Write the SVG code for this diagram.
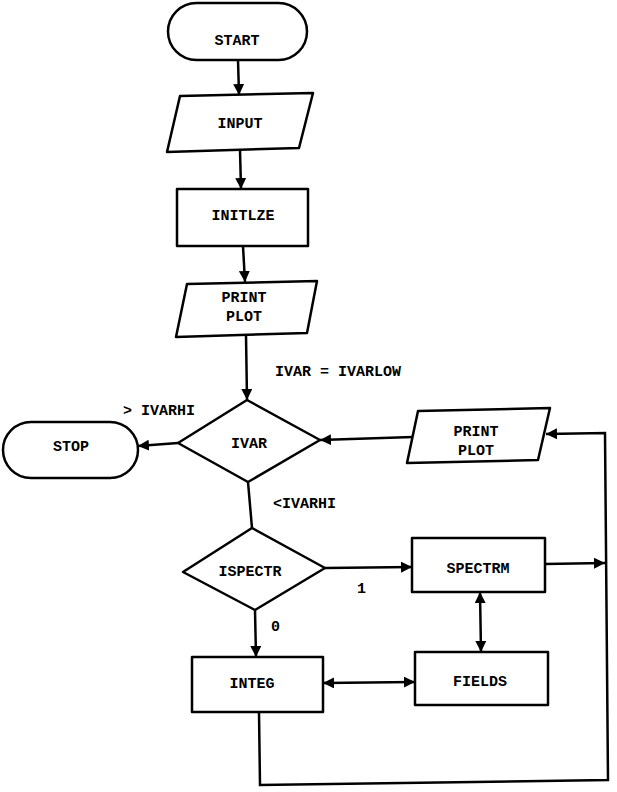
<svg xmlns="http://www.w3.org/2000/svg" width="617" height="792" viewBox="0 0 617 792">
<style>
.s{fill:#fff;stroke:#000;stroke-width:2.5;stroke-linejoin:round}
.c{fill:none;stroke:#000;stroke-width:2.5}
text{font-family:"Liberation Mono","Courier New",monospace;font-weight:bold;font-size:15px;fill:#000}
.m{text-anchor:middle}
</style>
<defs>
<marker id="a" viewBox="0 0 10 10" refX="10" refY="5" markerWidth="11" markerHeight="11" markerUnits="userSpaceOnUse" orient="auto-start-reverse">
<path d="M0,0 L10,5 L0,10 z" fill="#000"/>
</marker>
</defs>
<rect width="617" height="792" fill="#fff"/>
<g id="connectors">
<line class="c" x1="238" y1="60" x2="239" y2="95" marker-end="url(#a)"/>
<line class="c" x1="240" y1="150" x2="241" y2="189" marker-end="url(#a)"/>
<line class="c" x1="243" y1="246" x2="245" y2="282" marker-end="url(#a)"/>
<line class="c" x1="246" y1="335" x2="247" y2="400" marker-end="url(#a)"/>
<line class="c" x1="178" y1="443" x2="138" y2="446" marker-end="url(#a)"/>
<line class="c" x1="248" y1="482" x2="252" y2="528"/>
<line class="c" x1="325" y1="568" x2="412" y2="567" marker-end="url(#a)"/>
<line class="c" x1="255" y1="610" x2="256" y2="657" marker-end="url(#a)"/>
<line class="c" x1="323" y1="683" x2="415" y2="682" marker-start="url(#a)" marker-end="url(#a)"/>
<line class="c" x1="480" y1="592" x2="481" y2="652" marker-start="url(#a)" marker-end="url(#a)"/>
<line class="c" x1="545" y1="564" x2="605" y2="563" marker-end="url(#a)"/>
<polyline class="c" points="259,712 260,785 608,780 605,433 546,434" marker-end="url(#a)"/>
<line class="c" x1="413" y1="437" x2="320" y2="440" marker-end="url(#a)"/>
</g>
<g id="start">
<rect class="s" x="168" y="3" width="139" height="57" rx="28.5"/>
<text class="m" x="237" y="45">START</text>
</g>
<g id="input">
<polygon class="s" points="180,96 313,93 299,148 167,152"/>
<text class="m" x="240" y="128">INPUT</text>
</g>
<g id="initlze">
<rect class="s" x="177" y="189" width="131" height="57"/>
<text class="m" x="243" y="220">INITLZE</text>
</g>
<g id="printplot1">
<polygon class="s" points="187,284 317,281 307,333 176,337"/>
<text class="m" x="244" y="302">PRINT</text>
<text class="m" x="244" y="321">PLOT</text>
</g>
<g id="ivar">
<polygon class="s" points="247,400 320,440 248,482 178,443"/>
<text class="m" x="249" y="448">IVAR</text>
</g>
<g id="stop">
<rect class="s" x="3" y="422" width="135" height="56" rx="28"/>
<text class="m" x="71" y="451">STOP</text>
</g>
<g id="ispectr">
<polygon class="s" points="252,528 325,568 255,610 183,572"/>
<text class="m" x="250" y="576">ISPECTR</text>
</g>
<g id="spectrm">
<rect class="s" x="412" y="538" width="133" height="54"/>
<text class="m" x="478" y="573">SPECTRM</text>
</g>
<g id="integ">
<rect class="s" x="192" y="657" width="131" height="55"/>
<text class="m" x="252" y="688">INTEG</text>
</g>
<g id="fields">
<rect class="s" x="415" y="652" width="133" height="53"/>
<text class="m" x="480" y="686">FIELDS</text>
</g>
<g id="printplot2">
<polygon class="s" points="418,411 550,408 538,460 407,463"/>
<text class="m" x="476" y="436">PRINT</text>
<text class="m" x="476" y="455">PLOT</text>
</g>
<g id="labels">
<text x="275" y="376">IVAR = IVARLOW</text>
<text x="123" y="415">&gt; IVARHI</text>
<text x="273" y="508">&lt;IVARHI</text>
<text x="357" y="593">1</text>
<text x="271" y="631">0</text>
</g>
</svg>
